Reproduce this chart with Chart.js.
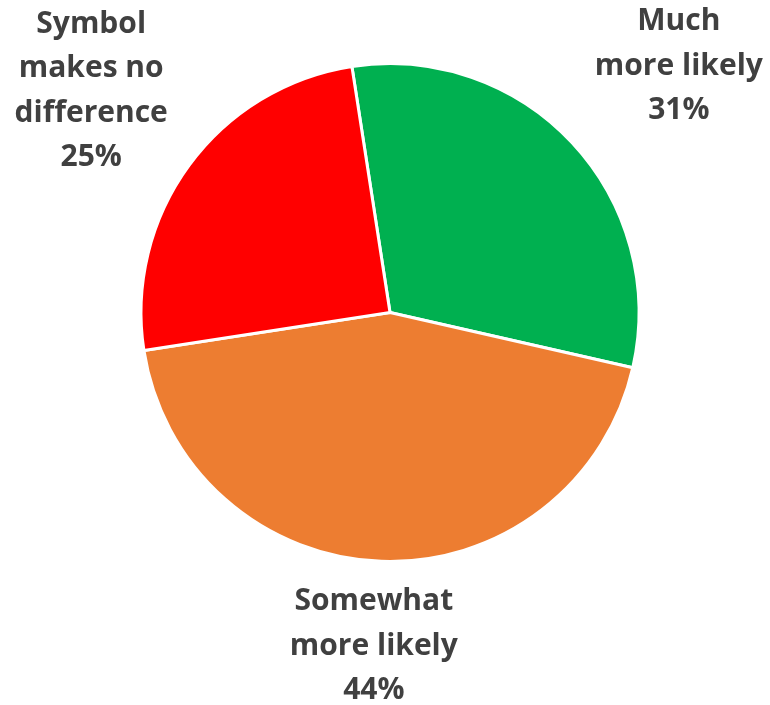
<!DOCTYPE html>
<html>
<head>
<meta charset="utf-8">
<script src="https://cdn.jsdelivr.net/npm/chart.js@4.4.1/dist/chart.umd.min.js"></script>
<style>
  html, body { margin: 0; padding: 0; background: #fff; }
  #wrap { width: 770px; height: 705px; }
</style>
</head>
<body>
<div id="wrap"><canvas id="pieChart" width="770" height="705"></canvas></div>
<script>
  // données
  var labels = ["Much more likely", "Somewhat more likely", "Symbol makes no difference"];
  var values = [31, 44, 25];
  var colors = ['#00B050', '#ED7D31', '#FF0000'];
  // lignes du texte affiché à côté de chaque part
  var labelLines = [
    ["Much", "more likely"],
    ["Somewhat", "more likely"],
    ["Symbol", "makes no", "difference"]
  ];
  // position du texte, en multiples du rayon depuis le centre
  var labelOffsets = [[1.16, -0.99], [-0.065, 1.34], [-1.2, -0.89]];

  var pieLabels = {
    id: 'pieLabels',
    afterDatasetsDraw: function (chart) {
      var ctx = chart.ctx;
      var arcs = chart.getDatasetMeta(0).data;
      ctx.save();
      ctx.font = 'bold 30px "Open Sans"';
      ctx.fillStyle = '#404040';
      ctx.textAlign = 'center';
      ctx.textBaseline = 'middle';
      arcs.forEach(function (arc, i) {
        var r = arc.outerRadius;
        var x = arc.x + labelOffsets[i][0] * r;
        var y = arc.y + labelOffsets[i][1] * r;
        var lines = labelLines[i].concat([values[i] + '%']);
        var lh = 44.5;
        var top = y - (lines.length - 1) * lh / 2;
        lines.forEach(function (t, j) {
          ctx.fillText(t, x, top + j * lh);
        });
      });
      ctx.restore();
    }
  };

  var ctxPie = document.getElementById("pieChart").getContext("2d");
  new Chart(ctxPie, {
    type: 'pie',
    data: {
      labels: labels,
      datasets: [{
        data: values,
        backgroundColor: colors,
        borderColor: '#ffffff',
        borderWidth: 3
      }]
    },
    options: {
      responsive: false,
      animation: false,
      rotation: -8.8,
      layout: { padding: { top: 62, bottom: 142, left: 10, right: 0 } },
      plugins: {
        legend: { display: false },
        tooltip: { enabled: false }
      }
    },
    plugins: [pieLabels]
  });
</script>
</body>
</html>
